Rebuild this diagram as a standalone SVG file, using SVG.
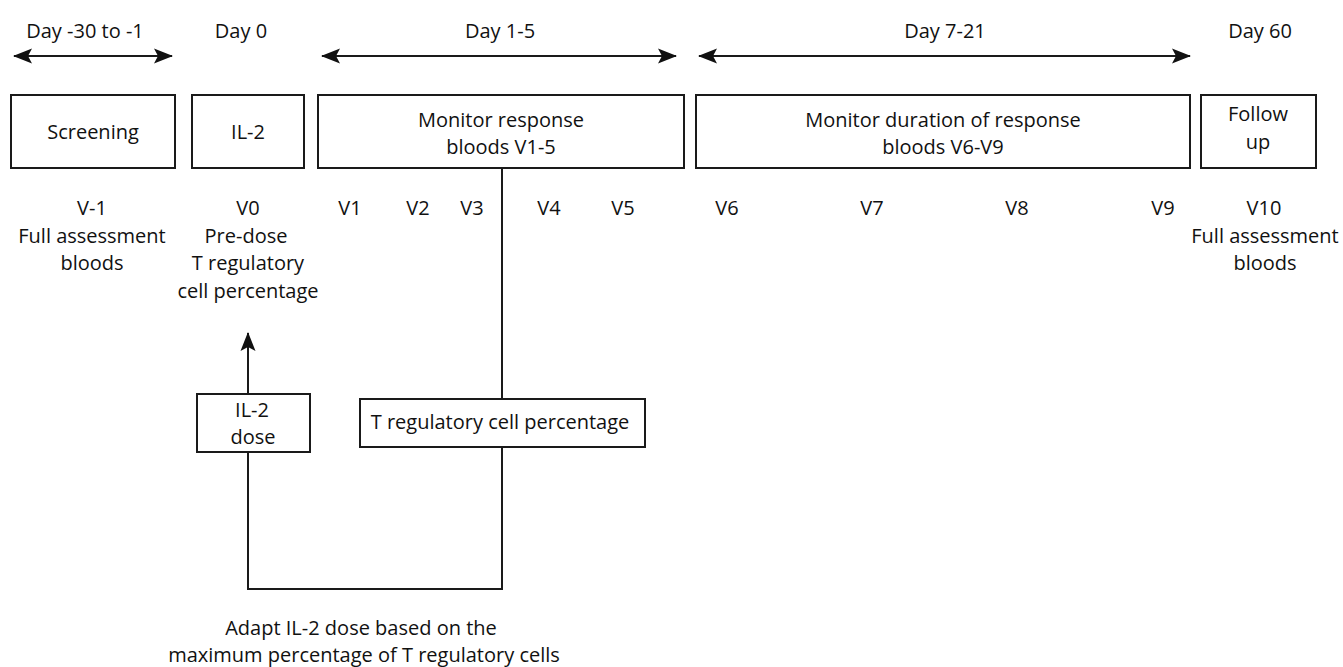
<svg xmlns="http://www.w3.org/2000/svg" width="1343" height="667" viewBox="0 0 1343 667">
<style>
text{font-family:"Open Sans","Liberation Sans",sans-serif;font-size:20px;fill:#111;text-anchor:middle}
.box{fill:#fff;stroke:#1a1a1a;stroke-width:2}
.ln{fill:none;stroke:#1a1a1a;stroke-width:2}
</style>
<defs>
<marker id="ah" markerUnits="userSpaceOnUse" markerWidth="19" markerHeight="16" refX="18" refY="8" orient="auto-start-reverse" viewBox="0 0 19 16">
<path d="M0,0.5 L19,8 L0,15.5 L4,8 Z" fill="#111"/>
</marker>
</defs>
<rect width="1343" height="667" fill="#fff"/>

<g id="periods">
<text x="85" y="38">Day -30 to -1</text>
<text x="241" y="38">Day 0</text>
<text x="500" y="38">Day 1-5</text>
<text x="945" y="38">Day 7-21</text>
<text x="1260" y="38">Day 60</text>
</g>

<g id="connectors">
<line class="ln" x1="14" y1="56" x2="172" y2="56" marker-start="url(#ah)" marker-end="url(#ah)"/>
<line class="ln" x1="322" y1="56" x2="676" y2="56" marker-start="url(#ah)" marker-end="url(#ah)"/>
<line class="ln" x1="699" y1="56" x2="1190" y2="56" marker-start="url(#ah)" marker-end="url(#ah)"/>
<line class="ln" x1="502" y1="168" x2="502" y2="399"/>
<polyline class="ln" points="502,447 502,589 248,589 248,452"/>
<line class="ln" x1="248" y1="394" x2="248" y2="333" marker-end="url(#ah)"/>
</g>

<g id="screening">
<rect class="box" x="11" y="95" width="164" height="73"/>
<text x="93" y="139">Screening</text>
</g>
<g id="il2">
<rect class="box" x="192" y="95" width="112" height="73"/>
<text x="248" y="139">IL-2</text>
</g>
<g id="monitor-response">
<rect class="box" x="318" y="95" width="366" height="73"/>
<text x="501" y="127">Monitor response</text>
<text x="501" y="154">bloods V1-5</text>
</g>
<g id="monitor-duration">
<rect class="box" x="696" y="95" width="494" height="73"/>
<text x="943" y="127">Monitor duration of response</text>
<text x="943" y="154">bloods V6-V9</text>
</g>
<g id="follow-up">
<rect class="box" x="1201" y="95" width="115" height="73"/>
<text x="1258" y="121">Follow</text>
<text x="1258" y="149">up</text>
</g>

<g id="visits">
<text x="92" y="215">V-1</text>
<text x="92" y="243">Full assessment</text>
<text x="92" y="270">bloods</text>
<text x="248" y="215">V0</text>
<text x="246" y="243">Pre-dose</text>
<text x="248" y="270">T regulatory</text>
<text x="248" y="298">cell percentage</text>
<text x="350" y="215">V1</text>
<text x="418" y="215">V2</text>
<text x="472" y="215">V3</text>
<text x="549" y="215">V4</text>
<text x="623" y="215">V5</text>
<text x="727" y="215">V6</text>
<text x="872" y="215">V7</text>
<text x="1017" y="215">V8</text>
<text x="1163" y="215">V9</text>
<text x="1264" y="215">V10</text>
<text x="1265" y="243">Full assessment</text>
<text x="1265" y="270">bloods</text>
</g>

<g id="il2-dose">
<rect class="box" x="197" y="394" width="113" height="58"/>
<text x="252" y="417">IL-2</text>
<text x="253" y="444">dose</text>
</g>
<g id="treg-percentage">
<rect class="box" x="360" y="399" width="285" height="48"/>
<text x="500" y="429">T regulatory cell percentage</text>
</g>

<g id="adapt-label">
<text x="361" y="635">Adapt IL-2 dose based on the</text>
<text x="364" y="662">maximum percentage of T regulatory cells</text>
</g>
</svg>
